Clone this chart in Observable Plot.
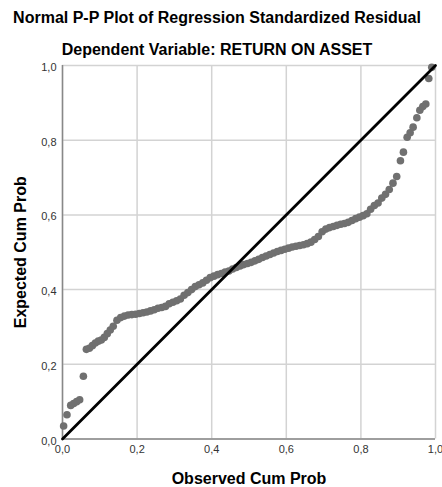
<!DOCTYPE html>
<html><head><meta charset="utf-8">
<script src="https://cdn.jsdelivr.net/npm/d3@7"></script>
<script src="https://cdn.jsdelivr.net/npm/@observablehq/plot@0.6"></script>
<style>
body{margin:0;background:#fff;}
#wrap{position:relative;width:442px;height:487px;font-family:"Liberation Sans",Arial,sans-serif;}
#wrap svg{position:absolute;left:0;top:0;}
.t{position:absolute;left:0;width:434px;text-align:center;font-weight:bold;color:#000;z-index:2;line-height:18px;white-space:nowrap;}
</style></head><body>
<div id="wrap">
<div class="t" style="top:9px;font-size:16px">Normal P-P Plot of Regression Standardized Residual</div>
<div class="t" style="top:41px;font-size:16px">Dependent Variable: RETURN ON ASSET</div>
</div>
<script>
const titleText = "Normal P-P Plot of Regression Standardized Residual";
const xLabel = "Observed Cum Prob";
const yLabel = "Expected Cum Prob";
const tickValues = [0, 0.2, 0.4, 0.6, 0.8, 1.0];
const diagonal = [[0, 0], [1, 1]];

const obsProb = [0.003,0.012,0.022,0.030,0.038,0.046,0.056,0.064,0.072,0.080,0.088,0.096,0.104,0.112,0.120,0.128,0.136,0.146,0.156,0.166,0.176,0.186,0.196,0.206,0.216,0.226,0.236,0.246,0.256,0.266,0.276,0.286,0.296,0.306,0.316,0.326,0.336,0.346,0.356,0.366,0.376,0.386,0.396,0.406,0.416,0.426,0.436,0.446,0.456,0.466,0.476,0.486,0.496,0.506,0.516,0.526,0.536,0.546,0.556,0.566,0.576,0.586,0.596,0.606,0.616,0.626,0.636,0.646,0.656,0.666,0.676,0.686,0.696,0.706,0.716,0.726,0.736,0.746,0.756,0.766,0.776,0.786,0.796,0.806,0.816,0.826,0.836,0.846,0.856,0.866,0.876,0.886,0.896,0.906,0.914,0.924,0.932,0.940,0.950,0.958,0.966,0.974,0.982,0.990];
const expProb = [0.035,0.065,0.090,0.095,0.100,0.105,0.168,0.240,0.243,0.250,0.257,0.262,0.265,0.272,0.282,0.292,0.302,0.318,0.325,0.329,0.332,0.333,0.334,0.336,0.338,0.340,0.343,0.346,0.350,0.352,0.355,0.362,0.366,0.370,0.375,0.385,0.392,0.400,0.408,0.413,0.418,0.425,0.432,0.436,0.440,0.443,0.447,0.450,0.455,0.459,0.463,0.467,0.470,0.473,0.477,0.481,0.486,0.490,0.494,0.498,0.502,0.505,0.508,0.511,0.514,0.516,0.518,0.520,0.523,0.527,0.534,0.542,0.555,0.562,0.566,0.569,0.572,0.575,0.577,0.580,0.585,0.590,0.594,0.598,0.603,0.615,0.625,0.632,0.645,0.655,0.668,0.685,0.703,0.745,0.768,0.808,0.820,0.835,0.860,0.880,0.890,0.897,0.965,0.995];

const pts = obsProb.map((x, i) => ({x, y: expProb[i]}));
const fmt = d => d.toFixed(1).replace(".", ",");
const gridColor = "#d3d3d3";

const chart = Plot.plot({
  width: 442,
  height: 487,
  marginLeft: 62,
  marginRight: 7,
  marginTop: 65,
  marginBottom: 48.5,
  style: {fontFamily: "'Liberation Sans', Arial, sans-serif", background: "transparent"},
  x: {domain: [0, 1]},
  y: {domain: [0, 1]},
  marks: [
    Plot.gridX(tickValues, {stroke: gridColor, strokeOpacity: 1, strokeWidth: 1.5}),
    Plot.gridY(tickValues, {stroke: gridColor, strokeOpacity: 1, strokeWidth: 1.5}),
    Plot.axisX(tickValues, {tickSize: 0, tickPadding: 6, tickFormat: fmt, fontSize: 11, fill: "#333", label: null}),
    Plot.axisY(tickValues, {tickSize: 0, tickPadding: 6, tickFormat: fmt, fontSize: 11, fill: "#333", label: null, dy: 2}),
    Plot.ruleX([0], {stroke: "#888", strokeWidth: 1.5}),
    Plot.ruleY([0], {stroke: "#888", strokeWidth: 1.5}),
    Plot.dot(pts, {x: "x", y: "y", r: 3.8, fill: "#707070", stroke: "none"}),
    Plot.line(diagonal, {x: d => d[0], y: d => d[1], stroke: "#000", strokeWidth: 2.8}),
    Plot.text([xLabel], {frameAnchor: "bottom", dy: 40, textAnchor: "middle", lineAnchor: "middle", fontSize: 16, fontWeight: "bold", fill: "#000"}),
    Plot.text([yLabel], {frameAnchor: "left", dx: -42, textAnchor: "middle", lineAnchor: "middle", rotate: -90, fontSize: 16, fontWeight: "bold", fill: "#000"})
  ]
});
document.getElementById("wrap").prepend(chart);
</script>
</body></html>
